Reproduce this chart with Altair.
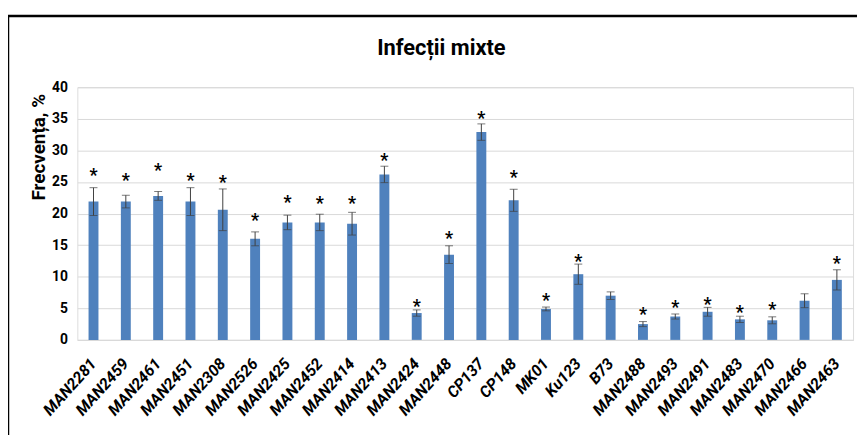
import altair as alt
import pandas as pd

categories = ["MAN2281", "MAN2459", "MAN2461", "MAN2451", "MAN2308", "MAN2526",
              "MAN2425", "MAN2452", "MAN2414", "MAN2413", "MAN2424", "MAN2448",
              "CP137", "CP148", "MK01", "Ku123", "B73", "MAN2488", "MAN2493",
              "MAN2491", "MAN2483", "MAN2470", "MAN2466", "MAN2463"]
means = [21.9, 21.9, 22.8, 21.9, 20.6, 16.0, 18.6, 18.6, 18.4, 26.2, 4.25, 13.5,
         32.9, 22.1, 4.9, 10.4, 7.0, 2.5, 3.7, 4.45, 3.25, 3.1, 6.2, 9.5]
errors = [2.2, 1.0, 0.7, 2.2, 3.3, 1.1, 1.15, 1.3, 1.8, 1.3, 0.5, 1.4,
          1.3, 1.75, 0.3, 1.6, 0.6, 0.4, 0.4, 0.7, 0.5, 0.55, 1.1, 1.6]
stars = [26.6, 25.8, 27.4, 25.8, 25.5, 19.5, 22.3, 22.1, 22.1, 28.9, 5.9, 16.6,
         35.6, 26.3, 6.7, 13.0, None, 4.6, 5.6, 6.2, 4.9, 5.3, None, 12.7]
y_ticks = [0, 5, 10, 15, 20, 25, 30, 35, 40]

df = pd.DataFrame({"cat": categories, "mean": means, "err": errors})
df["lo"] = df["mean"] - df["err"]
df["hi"] = df["mean"] + df["err"]
star_df = pd.DataFrame({
    "cat": [c for c, s in zip(categories, stars) if s is not None],
    "star": [s for s in stars if s is not None],
})

FONT = "Liberation Sans Narrow, Roboto, sans-serif"
YTITLE = "Frecvența, %"

x_axis = alt.Axis(labelAngle=-48, labelAlign="right", labelBaseline="middle",
                  labelFont=FONT, labelFontSize=16, labelFontWeight="bold",
                  labelFontStyle="italic", labelColor="#000000",
                  ticks=False, domainColor="#d9d9d9", labelPadding=21)
y_axis = alt.Axis(values=y_ticks, domain=False, ticks=False, labelOverlap=False,
                  gridColor="#d9d9d9", labelFont=FONT, labelFontSize=14,
                  labelFontWeight="bold", labelColor="#000000", labelPadding=10,
                  titleFont=FONT, titleFontSize=19, titleFontWeight="bold",
                  titleColor="#000000", titlePadding=3, titleY=60)
x_scale = alt.Scale(paddingInner=0, paddingOuter=0)
y_scale = alt.Scale(domain=[0, 40])


def X():
    return alt.X("cat:N", sort=categories, title=None, scale=x_scale, axis=x_axis)


def Y(field):
    return alt.Y(field, title=YTITLE, scale=y_scale, axis=y_axis)


base = alt.Chart(df)
bars = base.mark_bar(size=10, color="#4f81bd").encode(x=X(), y=Y("mean:Q"))
err_rule = base.mark_rule(color="#404040", strokeWidth=1).encode(
    x=X(), y=Y("lo:Q"), y2="hi:Q")
cap_lo = base.mark_tick(color="#404040", size=8, thickness=1).encode(x=X(), y=Y("lo:Q"))
cap_hi = base.mark_tick(color="#404040", size=8, thickness=1).encode(x=X(), y=Y("hi:Q"))
star_txt = alt.Chart(star_df).mark_text(text="*", font=FONT, fontSize=18, fontWeight="bold",
                                        color="#000000", baseline="middle", dy=4).encode(
    x=X(), y=Y("star:Q"))

frame_data = alt.Data(values=[{"k": 1}])
frame_top = alt.Chart(frame_data).mark_rule(color="#000000", strokeWidth=2.5).encode(
    x=alt.value(-70), x2=alt.value(900), y=alt.value(-72))
frame_left = alt.Chart(frame_data).mark_rule(color="#000000", strokeWidth=2.5).encode(
    x=alt.value(-70), y=alt.value(-73), y2=alt.value(400))

chart = alt.layer(bars, err_rule, cap_lo, cap_hi, star_txt, frame_top, frame_left).properties(
    width=783, height=255,
    autosize=alt.AutoSizeParams(type="none"),
    padding={"left": 70, "top": 78, "right": 4, "bottom": 94},
    title=alt.TitleParams("Infecții mixte", font=FONT, fontSize=22, fontWeight="bold",
                          color="#000000", anchor="middle", frame="group",
                          baseline="alphabetic", dx=-24, offset=-64),
).configure_view(stroke=None).configure(background="#ffffff")

chart.save("out.html", embed_options={"renderer": "svg", "actions": False})
